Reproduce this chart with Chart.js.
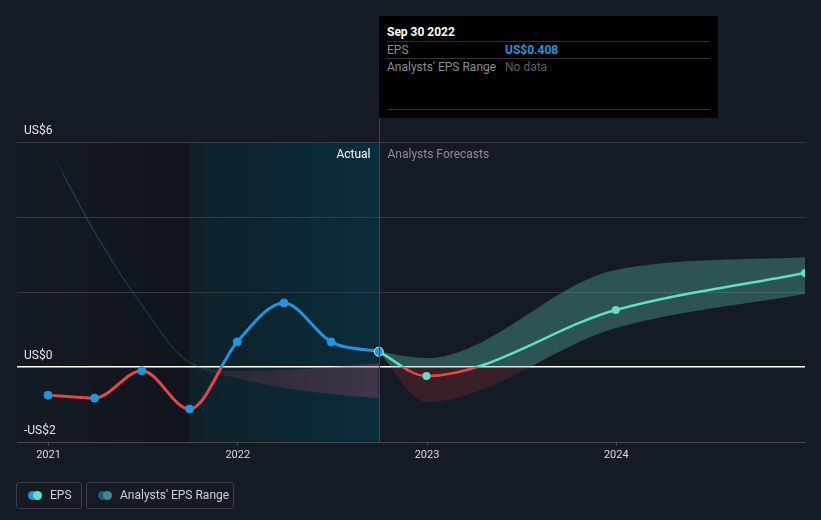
<!DOCTYPE html>
<html lang="en">
<head>
<meta charset="UTF-8">
<title>EPS Forecast</title>
<script src="https://cdn.jsdelivr.net/npm/chart.js"></script>
<style>
    body {
        margin: 0;
        background: #151b24;
        font-family: Roboto, Arial, sans-serif;
    }

    .wrap {
        position: relative;
        width: 821px;
        height: 520px;
        overflow: hidden;
    }

    canvas {
        position: absolute;
        left: 0;
        top: 0;
    }

    .tip {
        position: absolute;
        left: 379px;
        top: 16px;
        width: 339px;
        height: 102px;
        background: #000;
        font-size: 12px;
    }

    .tip div {
        position: absolute;
        white-space: nowrap;
    }

    .tip .sep {
        left: 8px;
        width: 323px;
        height: 1px;
        background: #333;
    }

    .legend-item {
        position: absolute;
        top: 482px;
        height: 25px;
        border: 1px solid #3a3f47;
        border-radius: 3px;
        font-size: 12px;
        color: #cfd2d6;
        line-height: 25px;
        white-space: nowrap;
    }

    .dot {
        position: absolute;
        top: 8px;
        width: 9px;
        height: 9px;
        border-radius: 50%;
    }
</style>
</head>
<body>
<div class="wrap">
    <canvas id="epsChart" width="821" height="520"></canvas>

    <div class="tip">
        <div style="left:8px;top:9px;color:#fff;font-weight:bold;">Sep 30 2022</div>
        <div class="sep" style="top:25px;"></div>
        <div style="left:8px;top:27px;color:#8a8d92;">EPS</div>
        <div style="left:126px;top:27px;color:#2394df;font-weight:bold;">US$0.408</div>
        <div class="sep" style="top:42px;"></div>
        <div style="left:8px;top:44px;color:#8a8d92;">Analysts' EPS Range</div>
        <div style="left:126px;top:44px;color:#5c5f63;">No data</div>
        <div class="sep" style="top:93px;"></div>
    </div>

    <div class="legend-item" style="left:16px;width:64px;">
        <span class="dot" style="left:11px;background:#2394df;"></span>
        <span class="dot" style="left:16px;background:#5ee0c8;"></span>
        <span style="position:absolute;left:33px;">EPS</span>
    </div>
    <div class="legend-item" style="left:86px;width:146px;">
        <span class="dot" style="left:11px;background:#1d5a84;"></span>
        <span class="dot" style="left:16px;background:#3f8a82;"></span>
        <span style="position:absolute;left:33px;">Analysts' EPS Range</span>
    </div>
</div>

<script>
    // reported EPS (quarterly, trailing)
    const epsDates = ['2020-12-31', '2021-03-31', '2021-06-30', '2021-09-30', '2021-12-31', '2022-03-31', '2022-06-30', '2022-09-30'];
    const epsValues = [-0.75, -0.83, -0.1, -1.12, 0.67, 1.71, 0.67, 0.408];

    // analysts forecasts
    const forecastDates = ['2022-09-30', '2022-12-31', '2023-12-31', '2024-12-31'];
    const forecastValues = [0.408, -0.24, 1.52, 2.51];
    const forecastHigh = [0.408, 0.24, 2.59, 2.93];
    const forecastLow = [0.408, -0.93, 1.04, 1.95];

    // past analysts range (faded)
    const pastDates = ['2020-12-31', '2021-03-31', '2021-06-30', '2021-09-30', '2021-12-31', '2022-03-31', '2022-06-30', '2022-09-30'];
    const pastHigh = [5.9, 3.6, 1.65, 0.12, -0.12, -0.08, 0.0, 0.1];
    const pastLow = [5.9, 3.6, 1.65, 0.12, -0.3, -0.55, -0.72, -0.83];

    const yearTicks = [2021, 2022, 2023, 2024];
    const yTicks = [-2, 0, 2, 4, 6];
    const yLabels = { '6': 'US$6', '0': 'US$0', '-2': '-US$2' };

    const lastYearStart = '2021-09-30';
    const todayDate = '2022-09-30';

    function toYear(d) {
        const t = Date.parse(d + 'T00:00:00Z');
        const y = new Date(t).getUTCFullYear();
        const s = Date.UTC(y, 0, 1);
        const e = Date.UTC(y + 1, 0, 1);
        return y + (t - s) / (e - s);
    }

    function pts(dates, values) {
        return dates.map((d, i) => ({ x: toYear(d), y: values[i] }));
    }

    const xMax = toYear('2024-12-31');
    const xMin = toYear('2020-12-31') - 31 / 189.25;

    // colour above / below zero
    function zeroSplit(above, below) {
        return (ctx) => {
            const chart = ctx.chart;
            const area = chart.chartArea;
            if (!area) return above;
            const z = chart.scales.y.getPixelForValue(0);
            const f = Math.min(1, Math.max(0, (z - area.top) / (area.bottom - area.top)));
            const g = chart.ctx.createLinearGradient(0, area.top, 0, area.bottom);
            g.addColorStop(0, above);
            g.addColorStop(f, above);
            g.addColorStop(f, below);
            g.addColorStop(1, below);
            return g;
        };
    }

    // horizontal fade
    function fadeX(stops) {
        return (ctx) => {
            const chart = ctx.chart;
            const area = chart.chartArea;
            if (!area) return stops[0][1];
            const xs = chart.scales.x;
            const g = chart.ctx.createLinearGradient(area.left, 0, area.right, 0);
            stops.forEach(([v, c]) => {
                const f = (xs.getPixelForValue(v) - area.left) / (area.right - area.left);
                g.addColorStop(Math.min(1, Math.max(0, f)), c);
            });
            return g;
        };
    }

    // shaded regions, "today" line and labels
    const regionsPlugin = {
        id: 'regions',
        beforeDraw(chart) {
            const { ctx, chartArea: a, scales: { x } } = chart;
            const x1 = x.getPixelForValue(toYear(lastYearStart));
            const x2 = x.getPixelForValue(toYear(todayDate));
            ctx.save();
            let g = ctx.createLinearGradient(a.left, 0, x1, 0);
            g.addColorStop(0, 'rgba(0,0,0,0)');
            g.addColorStop(1, 'rgba(0,0,0,0.2)');
            ctx.fillStyle = g;
            ctx.fillRect(a.left, a.top, x1 - a.left, a.bottom - a.top);
            g = ctx.createLinearGradient(x1, 0, x2, 0);
            g.addColorStop(0, 'rgba(0,50,60,0.3)');
            g.addColorStop(1, 'rgba(0,60,82,0.55)');
            ctx.fillStyle = g;
            ctx.fillRect(x1, a.top, x2 - x1, a.bottom - a.top);
            ctx.restore();
        },
        afterDraw(chart) {
            const { ctx, chartArea: a, scales: { x } } = chart;
            const x2 = Math.round(x.getPixelForValue(toYear(todayDate))) + 0.5;
            ctx.save();
            ctx.strokeStyle = '#25505c';
            ctx.lineWidth = 1;
            ctx.beginPath();
            ctx.moveTo(x2, 118);
            ctx.lineTo(x2, a.bottom);
            ctx.stroke();
            ctx.font = '12px Roboto';
            ctx.textBaseline = 'middle';
            ctx.textAlign = 'right';
            ctx.fillStyle = '#ffffff';
            ctx.fillText('Actual', x2 - 9, a.top + 13);
            ctx.textAlign = 'left';
            ctx.fillStyle = '#8a8f97';
            ctx.fillText('Analysts Forecasts', x2 + 8, a.top + 13);
            ctx.restore();
        }
    };

    const chart = new Chart(document.getElementById('epsChart'), {
        type: 'line',
        data: {
            datasets: [{
                label: 'EPS',
                data: pts(epsDates, epsValues),
                borderColor: zeroSplit('#2394df', '#e64545'),
                borderWidth: 3,
                pointRadius: epsValues.map((v, i) => i === epsValues.length - 1 ? 4.5 : 4),
                pointBackgroundColor: '#2394df',
                pointBorderColor: epsValues.map((v, i) => i === epsValues.length - 1 ? '#d8ecf8' : '#2394df'),
                pointBorderWidth: 1,
                cubicInterpolationMode: 'monotone',
                fill: false,
                order: 0
            }, {
                label: 'Forecast',
                data: pts(forecastDates, forecastValues),
                borderColor: zeroSplit('#5ee0c8', '#e64545'),
                borderWidth: 2.5,
                pointRadius: forecastValues.map((v, i) => i === 0 ? 0 : 4),
                pointBackgroundColor: '#5ee0c8',
                pointBorderWidth: 0,
                cubicInterpolationMode: 'monotone',
                fill: false,
                order: 1
            }, {
                label: 'Range high',
                data: pts(forecastDates, forecastHigh),
                borderWidth: 0,
                pointRadius: 0,
                cubicInterpolationMode: 'monotone',
                backgroundColor: zeroSplit('rgba(90,200,180,0.33)', 'rgba(200,50,60,0.2)'),
                fill: '+1',
                order: 2
            }, {
                label: 'Range low',
                data: pts(forecastDates, forecastLow),
                borderWidth: 0,
                pointRadius: 0,
                cubicInterpolationMode: 'monotone',
                fill: false,
                order: 3
            }, {
                label: 'Past high',
                data: pts(pastDates, pastHigh),
                borderWidth: 1,
                borderColor: fadeX([[2021.03, 'rgba(35,148,223,0)'], [2021.1, 'rgba(35,148,223,0.45)'], [2021.75, 'rgba(35,148,223,0.35)'], [2022.0, 'rgba(35,148,223,0.05)'], [2022.8, 'rgba(35,148,223,0)']]),
                pointRadius: 0,
                cubicInterpolationMode: 'monotone',
                backgroundColor: fadeX([[2021.6, 'rgba(150,60,80,0)'], [2022.0, 'rgba(150,60,80,0.24)'], [2022.75, 'rgba(150,70,90,0.38)']]),
                fill: '+1',
                order: 4
            }, {
                label: 'Past low',
                data: pts(pastDates, pastLow),
                borderWidth: 0,
                pointRadius: 0,
                cubicInterpolationMode: 'monotone',
                fill: false,
                order: 5
            }]
        },
        options: {
            responsive: false,
            animation: false,
            events: [],
            layout: {
                padding: { left: 17, right: 16, top: 142, bottom: 48 }
            },
            plugins: {
                legend: { display: false },
                tooltip: { enabled: false }
            },
            scales: {
                x: {
                    type: 'linear',
                    min: xMin,
                    max: xMax,
                    afterBuildTicks: (s) => { s.ticks = yearTicks.map(v => ({ value: v })); },
                    afterFit: (s) => { s.height = 30; },
                    border: { display: true, color: '#464b53' },
                    grid: { drawOnChartArea: false, drawTicks: true, tickLength: 4, color: '#464b53' },
                    ticks: {
                        color: '#dcdcdc',
                        padding: 3,
                        autoSkip: false,
                        maxRotation: 0,
                        font: { family: 'Roboto', size: 11 },
                        callback: (v) => String(v)
                    }
                },
                y: {
                    min: -2,
                    max: 6,
                    afterBuildTicks: (s) => { s.ticks = yTicks.map(v => ({ value: v })); },
                    afterFit: (s) => { s.width = 0; },
                    border: { display: false },
                    grid: {
                        drawTicks: false,
                        color: (c) => c.tick && c.tick.value === 0 ? '#ffffff' : '#363b43',
                        lineWidth: (c) => c.tick && c.tick.value === 0 ? 1.5 : 1
                    },
                    ticks: {
                        mirror: true,
                        padding: 7,
                        labelOffset: -11,
                        color: '#e6e6e6',
                        font: { family: 'Roboto', size: 12 },
                        callback: (v) => yLabels[String(v)] || ''
                    }
                }
            }
        },
        plugins: [regionsPlugin]
    });
</script>
</body>
</html>
